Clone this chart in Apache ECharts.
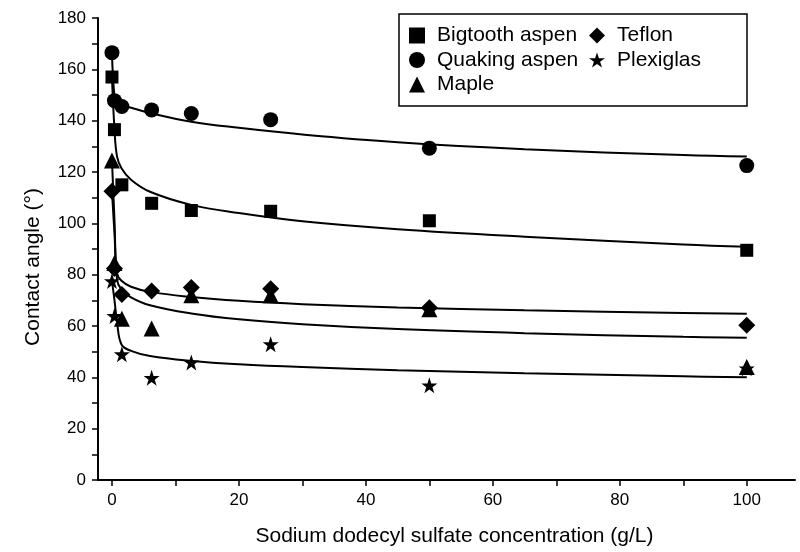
<!DOCTYPE html>
<html>
<head>
<meta charset="utf-8">
<script src="https://cdn.jsdelivr.net/npm/echarts@6/dist/echarts.min.js"></script>
<style>
  html, body { margin: 0; padding: 0; background: #fff; }
  #chart { width: 800px; height: 552px; }
</style>
</head>
<body>
<div id="chart"></div>
<script>
// SDS concentration (g/L) of the measured points
const concentrations = [0, 0.39, 1.56, 6.25, 12.5, 25, 50, 100];
const bigtooth = [157, 136.5, 115, 107.8, 105, 104.7, 101, 89.5];
const quaking = [166.5, 147.8, 145.5, 144.2, 142.8, 140.4, 129.3, 122.5];
const maple = [124.5, 84.5, 62.8, 59, 72, 72, 66.5, 44];
const teflon = [112.5, 82.4, 72.3, 73.6, 75, 74.5, 67.1, 60.3];
const plexiglas = [77.5, 63.9, 49, 39.8, 45.8, 52.9, 36.9, 43.5];

// fitted curves at these x
const fitX = [0, 0.4, 0.8, 1.5, 3, 6, 12.5, 20, 30, 45, 65, 90, 100];
const bigtoothFit = [157, 136.5, 126, 121.5, 117, 112.3, 107.2, 104, 100.8, 97.7, 94.8, 91.8, 90.9];
const quakingFit = [166.5, 149.4, 147.6, 146.3, 145, 143, 139.6, 137.2, 134.6, 131.6, 128.9, 126.6, 126];
const mapleFit = [124.5, 101, 78, 74.2, 71.2, 68.1, 64.9, 62.6, 60.7, 58.8, 57.2, 55.8, 55.4];
const teflonFit = [112.5, 96, 80.5, 77.6, 75.3, 73.3, 71.3, 69.8, 68.5, 67.2, 66.1, 65.1, 64.8];
const plexiglasFit = [77.5, 70, 61.5, 52.8, 50.3, 48.3, 46.4, 45.1, 44, 42.8, 41.6, 40.4, 40];

const xTicks = [0, 10, 20, 30, 40, 50, 60, 70, 80, 90, 100];
const xLabels = [0, 20, 40, 60, 80, 100];
const yTicks = [0, 10, 20, 30, 40, 50, 60, 70, 80, 90, 100, 110, 120, 130, 140, 150, 160, 170, 180];
const yLabels = [0, 20, 40, 60, 80, 100, 120, 140, 160, 180];

const starPath = "path://M50,0 L61.8,35.5 L99,35.5 L69,57.5 L80.5,93 L50,71 L19.5,93 L31,57.5 L1,35.5 L38.2,35.5 Z";

const zip = (xs, ys) => xs.map((x, i) => [x, ys[i]]);

const FONT = "Liberation Sans";

const myChart = echarts.init(document.getElementById("chart"));

const scatter = (name, values, symbol, size) => ({
  name: name,
  type: "scatter",
  symbol: symbol,
  symbolSize: size,
  z: 3,
  itemStyle: { color: "#000", opacity: 1 },
  data: zip(concentrations, values),
});

const fit = (name, values) => ({
  name: name,
  type: "line",
  showSymbol: false,
  smooth: 0.4,
  z: 2,
  silent: true,
  lineStyle: { color: "#000", width: 2 },
  data: zip(fitX, values),
});

const legendBase = {
  orient: "vertical",
  top: 20,
  itemWidth: 16,
  itemHeight: 16,
  itemGap: 3.5,
  textStyle: { fontFamily: FONT, fontSize: 21, lineHeight: 21, color: "#000", padding: [0, 0, 0, 7] },
};

const option = {
  animation: false,
  backgroundColor: "#fff",
  grid: { left: 98, right: 5, top: 18, bottom: 71 },
  legend: [
    Object.assign({}, legendBase, { left: 404, data: ["Bigtooth aspen", "Quaking aspen", "Maple"] }),
    Object.assign({}, legendBase, { left: 584, data: ["Teflon", "Plexiglas"] }),
  ],
  graphic: [
    {
      type: "rect",
      shape: { x: 399, y: 14, width: 348, height: 92 },
      style: { fill: "#fff", stroke: "#000", lineWidth: 1.5 },
      z: 1,
    },
  ],
  xAxis: {
    type: "value",
    min: -2.2,
    max: 107.6,
    name: "Sodium dodecyl sulfate concentration (g/L)",
    nameLocation: "middle",
    nameGap: 46,
    nameTextStyle: { fontFamily: FONT, fontSize: 21, color: "#000", padding: [0, 0, 0, 16] },
    axisLine: { onZero: false, lineStyle: { color: "#000", width: 2 } },
    axisTick: { show: true, customValues: xTicks, length: 6, lineStyle: { color: "#000", width: 1.5 } },
    axisLabel: { customValues: xLabels, margin: 12, fontFamily: FONT, fontSize: 17, color: "#000" },
    splitLine: { show: false },
  },
  yAxis: {
    type: "value",
    min: 0,
    max: 180,
    name: "Contact angle (°)",
    nameLocation: "middle",
    nameGap: 54,
    nameTextStyle: { fontFamily: FONT, fontSize: 21, color: "#000", padding: [0, 36, 0, 0] },
    axisLine: { onZero: false, lineStyle: { color: "#000", width: 2 } },
    axisTick: { show: true, customValues: yTicks, length: 6, lineStyle: { color: "#000", width: 1.5 } },
    axisLabel: { customValues: yLabels, margin: 12, fontFamily: FONT, fontSize: 17, color: "#000" },
    splitLine: { show: false },
  },
  series: [
    fit("Bigtooth fit", bigtoothFit),
    fit("Quaking fit", quakingFit),
    fit("Maple fit", mapleFit),
    fit("Teflon fit", teflonFit),
    fit("Plexiglas fit", plexiglasFit),
    scatter("Bigtooth aspen", bigtooth, "rect", 13),
    scatter("Quaking aspen", quaking, "circle", 15),
    scatter("Maple", maple, "triangle", 16),
    scatter("Teflon", teflon, "diamond", 17),
    scatter("Plexiglas", plexiglas, starPath, 16),
  ],
};

myChart.setOption(option);
</script>
</body>
</html>
